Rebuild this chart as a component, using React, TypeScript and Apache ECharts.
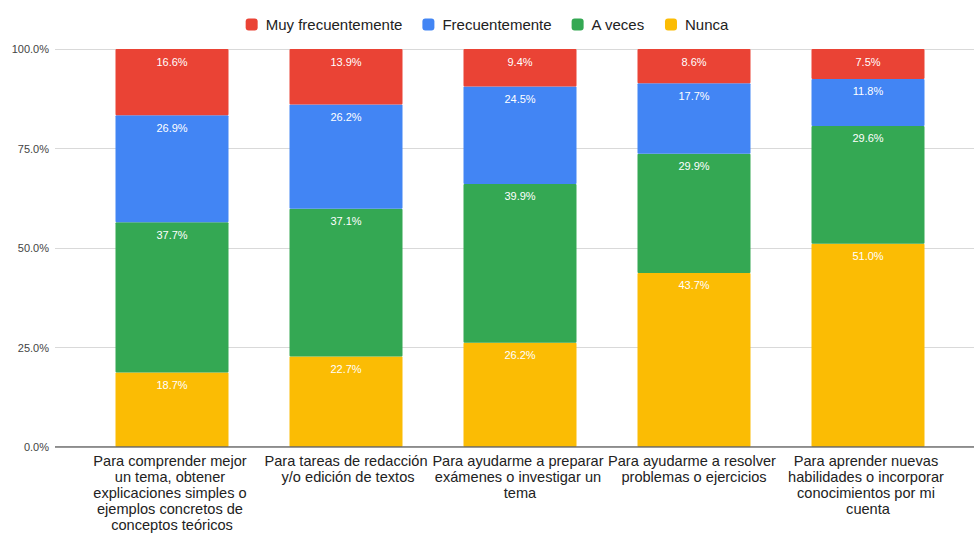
import React, { useEffect, useRef } from "react";
import * as echarts from "echarts";

const categories = [
  "Para comprender mejor un tema, obtener explicaciones simples o ejemplos concretos de conceptos teóricos",
  "Para tareas de redacción y/o edición de textos",
  "Para ayudarme a preparar exámenes o investigar un tema",
  "Para ayudarme a resolver problemas o ejercicios",
  "Para aprender nuevas habilidades o incorporar conocimientos por mi cuenta",
];
const nunca = [18.7, 22.7, 26.2, 43.7, 51.0];
const aVeces = [37.7, 37.1, 39.9, 29.9, 29.6];
const frecuentemente = [26.9, 26.2, 24.5, 17.7, 11.8];
const muyFrecuentemente = [16.6, 13.9, 9.4, 8.6, 7.5];
const yTicks = [0, 25, 50, 75, 100];
const labelWidths = [172, 172, 184, 172, 172];

const seriesDefs = [
  { name: "Nunca", data: nunca, color: "#FBBC04" },
  { name: "A veces", data: aVeces, color: "#34A853" },
  { name: "Frecuentemente", data: frecuentemente, color: "#4285F4" },
  { name: "Muy frecuentemente", data: muyFrecuentemente, color: "#EA4335" },
];

export default function App() {
  const ref = useRef<HTMLDivElement>(null);
  useEffect(() => {
    if (!ref.current) return;
    const chart = echarts.init(ref.current, undefined, { renderer: "svg" });
    const totals = categories.map((_, i) =>
      seriesDefs.reduce((s, d) => s + d.data[i], 0)
    );
    const font = "'Liberation Sans', Arial, sans-serif";
    chart.setOption({
      animation: false,
      textStyle: { fontFamily: font },
      legend: {
        top: 12,
        left: "center",
        data: ["Muy frecuentemente", "Frecuentemente", "A veces", "Nunca"],
        itemWidth: 12,
        itemHeight: 12,
        itemGap: 20,
        icon: "roundRect",
        textStyle: {
          fontSize: 15,
          color: "#222",
          fontFamily: font,
          padding: [0, 0, 0, 3],
        },
      },
      grid: [
        { left: 85, right: 19, top: 49, bottom: 87, outerBoundsMode: "none", containLabel: false },
        { left: 55, right: 0, top: 49, bottom: 87, outerBoundsMode: "none", containLabel: false },
      ],
      xAxis: [
        {
          type: "category",
          gridIndex: 0,
          data: categories.map((c, i) => ({
            value: c,
            textStyle: { width: labelWidths[i] },
          })),
          axisLine: { show: false },
          axisTick: { show: false },
          axisLabel: {
            interval: 0,
            width: 172,
            overflow: "break",
            fontSize: 14.6,
            lineHeight: 16,
            color: "#222",
            margin: 6,
            fontFamily: font,
          },
        },
        {
          type: "value",
          gridIndex: 1,
          show: false,
          min: 0,
          max: 1,
        },
      ],
      yAxis: [
        {
          type: "value",
          gridIndex: 0,
          min: 0,
          max: 100,
          interval: 25,
          show: false,
        },
        {
          type: "value",
          gridIndex: 1,
          min: 0,
          max: 100,
          interval: 25,
          axisLine: { show: false },
          axisTick: { show: false },
          splitLine: { lineStyle: { color: "#d9d9d9", width: 1 } },
          axisLabel: {
            color: "#444",
            fontSize: 11,
            margin: 6,
            fontFamily: font,
            formatter: (v: number) =>
              yTicks.includes(v) ? v.toFixed(1) + "%" : "",
          },
        },
      ],
      series: [
        ...seriesDefs.map((d) => ({
          name: d.name,
          type: "bar",
          stack: "total",
          xAxisIndex: 0,
          yAxisIndex: 0,
          barWidth: 113,
          itemStyle: { color: d.color, borderRadius: 1 },
          data: d.data.map((v, i) => ({
            value: (v / totals[i]) * 100,
            raw: v,
          })),
          label: {
            show: true,
            position: "insideTop",
            distance: 7,
            color: "#fff",
            fontSize: 11,
            fontFamily: font,
            formatter: (p: any) => p.data.raw.toFixed(1) + "%",
          },
        })),
        {
          type: "line",
          xAxisIndex: 1,
          yAxisIndex: 1,
          data: [
            [0, 0],
            [1, 0],
          ],
          symbol: "none",
          silent: true,
          lineStyle: { color: "#666", width: 1.5 },
        },
      ],
    });
    return () => chart.dispose();
  }, []);
  return (
    <div
      ref={ref}
      style={{ width: 974, height: 534, position: "absolute", left: 0, top: 0 }}
    />
  );
}
